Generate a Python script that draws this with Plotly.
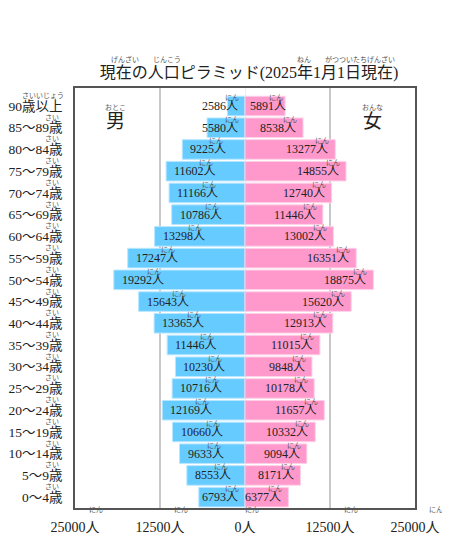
import plotly.graph_objects as go

# age groups from top to bottom
ages = ['90歳以上', '85～89歳', '80～84歳', '75～79歳', '70～74歳', '65～69歳',
        '60～64歳', '55～59歳', '50～54歳', '45～49歳', '40～44歳', '35～39歳',
        '30～34歳', '25～29歳', '20～24歳', '15～19歳', '10～14歳', '5～9歳', '0～4歳']
male = [2586, 5580, 9225, 11602, 11166, 10786, 13298, 17247, 19292, 15643,
        13365, 11446, 10230, 10716, 12169, 10660, 9633, 8553, 6793]
female = [5891, 8538, 13277, 14855, 12740, 11446, 13002, 16351, 18875, 15620,
          12913, 11015, 9848, 10178, 11657, 10332, 9094, 8171, 6377]
tick_vals = [-25000, -12500, 0, 12500, 25000]
tick_text = ['25000人', '12500人', '0人', '12500人', '25000人']

W, H = 450, 560
OFF = 8  # page body margin
L, R, T, B = 75 - OFF, 35 + OFF, 88 - OFF, 52 + OFF
PW = W - L - R
PH = H - T - B
XMAX = 25000
PX = PW / (2 * XMAX)  # pixels per person

SERIF = 'Liberation Serif, Noto Sans CJK JP'
RUBY = dict(family='Noto Sans CJK JP', size=7, color='#555')
LABEL_SIZE = 12


def px_x(px):
    return (px - OFF - L) / PW


def px_y(py):
    return (H - B - (py - OFF)) / PH


fig = go.Figure()

fig.add_trace(go.Bar(y=ages, x=[-v for v in male], orientation='h', name='男',
                     marker=dict(color='#66ccff', line=dict(color='#b8e6ff', width=1))))
fig.add_trace(go.Bar(y=ages, x=female, orientation='h', name='女',
                     marker=dict(color='#ff99cc', line=dict(color='#ffd0e8', width=1))))

ann = []


def label_width(v):
    return LABEL_SIZE * (len(str(v)) * 0.5 + 1)


# bar value labels with ruby over 人
for age, m, f in zip(ages, male, female):
    w = label_width(m)
    if m * PX - 6 >= w + 5:
        ann.append(dict(x=-m, y=age, text=f'{m}人', xanchor='left', xshift=6, showarrow=False))
        ann.append(dict(x=-m, y=age, text='にん', xanchor='right', xshift=6 + w + 1, yshift=9,
                        showarrow=False, font=RUBY))
    else:
        ann.append(dict(x=0, y=age, text=f'{m}人', xanchor='right', xshift=-5, showarrow=False))
        ann.append(dict(x=0, y=age, text='にん', xanchor='right', xshift=-4, yshift=9,
                        showarrow=False, font=RUBY))
    w = label_width(f)
    if f * PX - 5 - w >= 2:
        ann.append(dict(x=f, y=age, text=f'{f}人', xanchor='right', xshift=-5, showarrow=False))
        ann.append(dict(x=f, y=age, text='にん', xanchor='right', xshift=-4, yshift=9,
                        showarrow=False, font=RUBY))
    else:
        ann.append(dict(x=0, y=age, text=f'{f}人', xanchor='left', xshift=3, showarrow=False))
        ann.append(dict(x=0, y=age, text='にん', xanchor='right', xshift=3 + w + 1, yshift=9,
                        showarrow=False, font=RUBY))

# ruby over 歳 on the y axis
for age in ages:
    ruby = 'さいいじょう' if age.endswith('以上') else 'さい'
    ann.append(dict(xref='paper', x=0, y=age, text=ruby, xanchor='right',
                    xshift=-14 if ruby == 'さい' else -9, yshift=11, showarrow=False, font=RUBY))

# ruby over 人 on the x axis
for v, t in zip(tick_vals, tick_text):
    w = 7 * (len(t) - 1) + 14
    ann.append(dict(x=v, yref='paper', y=0, text='にん', xanchor='center',
                    xshift=w / 2 - 4, yshift=-8, showarrow=False, font=RUBY))

# title ruby
for text, px in [('げんざい', 125), ('じんこう', 167), ('ねん', 304), ('がつついたちげんざい', 360)]:
    ann.append(dict(xref='paper', yref='paper', x=px_x(px), y=px_y(59), text=text,
                    xanchor='center', yanchor='middle', showarrow=False, font=RUBY))

# 男 / 女
for text, ruby, px in [('男', 'おとこ', 115), ('女', 'おんな', 372)]:
    ann.append(dict(xref='paper', yref='paper', x=px_x(px), y=px_y(121), text=text,
                    xanchor='center', yanchor='middle', showarrow=False,
                    font=dict(family=SERIF, size=19, color='#222')))
    ann.append(dict(xref='paper', yref='paper', x=px_x(px), y=px_y(107), text=ruby,
                    xanchor='center', yanchor='middle', showarrow=False, font=RUBY))

fig.update_layout(
    width=W, height=H,
    margin=dict(l=L, r=R, t=T, b=B, autoexpand=False),
    barmode='overlay', bargap=0.1,
    showlegend=False,
    plot_bgcolor='white', paper_bgcolor='white',
    font=dict(family=SERIF, size=LABEL_SIZE, color='#222'),
    title=dict(text='現在の人口ピラミッド(2025年1月1日現在)', x=(249 - OFF) / W, xanchor='center',
               y=1 - (72 - OFF) / H, yanchor='middle', font=dict(family=SERIF, size=16, color='#222')),
    annotations=ann,
)
fig.update_xaxes(range=[-XMAX, XMAX], tickvals=tick_vals, ticktext=tick_text, automargin=False,
                 tickfont=dict(size=14), ticks='outside', ticklen=5, tickcolor='rgba(0,0,0,0)',
                 showgrid=True, gridcolor='#c8c8c8', gridwidth=1.5,
                 zeroline=True, zerolinecolor='#eeeeee', zerolinewidth=1,
                 showline=True, mirror=True, linecolor='#555', linewidth=1.5, fixedrange=True)
fig.update_yaxes(categoryorder='array', categoryarray=ages[::-1], automargin=False,
                 tickfont=dict(size=13.5), ticks='outside', ticklen=8, tickcolor='rgba(0,0,0,0)',
                 showline=True, mirror=True, linecolor='#555', linewidth=1.5, fixedrange=True)

fig.write_html("out.html")
